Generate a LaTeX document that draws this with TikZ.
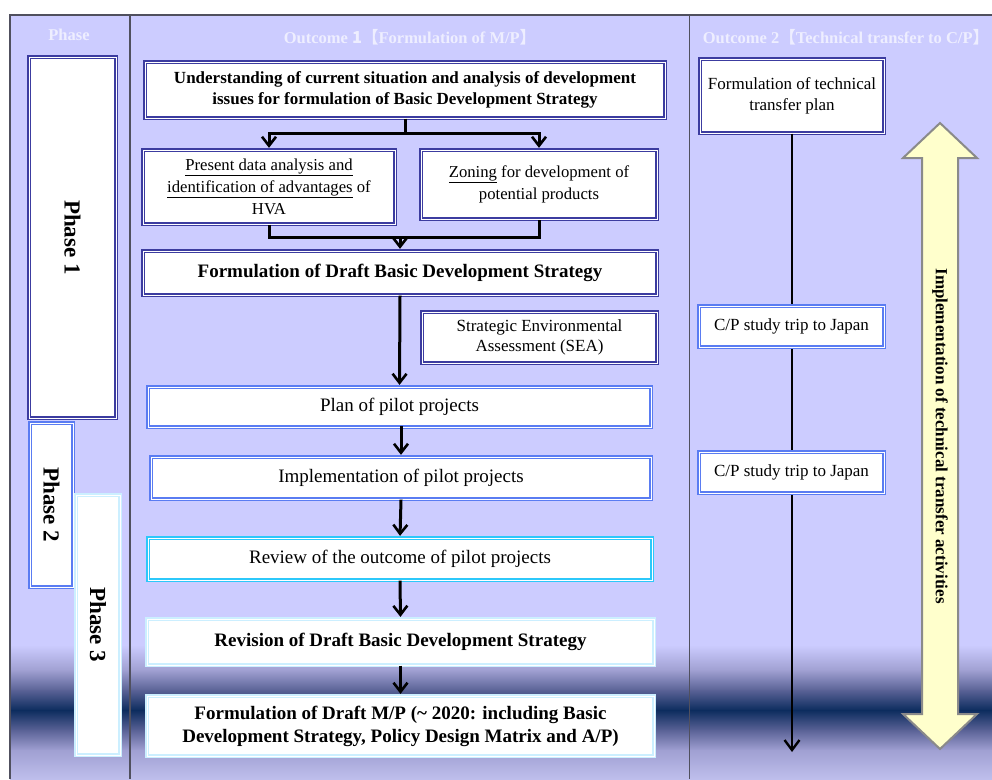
\documentclass[tikz,border=0pt]{standalone}
\usepackage{fontspec}
\setmainfont{Liberation Serif}
\newfontfamily\cjkfont{Noto Sans CJK SC}
\usetikzlibrary{arrows.meta}

\definecolor{lav}{HTML}{CCCCFF}
\definecolor{lavlow}{HTML}{BEBEEC}
\definecolor{bandmid}{HTML}{A0A0D2}
\definecolor{banddark}{HTML}{5A6296}
\definecolor{bandnavy}{HTML}{0C2C5E}
\definecolor{gridline}{HTML}{50505E}
\definecolor{navyb}{HTML}{3C3CA0}
\definecolor{blueb}{HTML}{5A7CF2}
\definecolor{cyanb}{HTML}{2CC8FA}
\definecolor{paleb}{HTML}{CCEFFF}
\definecolor{headtext}{HTML}{EEEEFF}
\definecolor{arrfill}{HTML}{FFFFCC}
\definecolor{arredge}{HTML}{8A8A8A}

\tikzset{
  x=1pt, y=-1pt,
  box/.style={draw=#1, fill=white, line width=1.3pt, double=white,
    double distance=1pt, inner sep=0pt, align=center, text=black},
  fs/.style n args={2}{font=\fontsize{#1}{#2}\selectfont},
  fsb/.style n args={2}{font=\fontsize{#1}{#2}\selectfont\bfseries},
  header/.style={text=headtext, font=\fontsize{16.5}{20}\selectfont\bfseries},
  conn/.style={line width=3pt, black},
  arr/.style={conn, shorten >=1.5pt,
    -{Straight Barb[length=9pt, width=14pt, line width=2.6pt]}},
  arrthin/.style={line width=2.6pt, black,
    -{Straight Barb[length=10pt, width=15pt, line width=2.4pt]}},
  phaselbl/.style={fsb={23}{26}, rotate=-90},
}

\begin{document}
\begin{tikzpicture}
\useasboundingbox (0,0) rectangle (992,779);
\fill[white] (0,0) rectangle (992,779);

% table background with the dark band near the bottom
\fill[lav] (10,15) rectangle (992,779);
\shade[top color=lav, bottom color=bandmid] (10,645) rectangle (992,670.5);
\shade[top color=bandmid, bottom color=banddark] (10,670) rectangle (992,690.5);
\shade[top color=banddark, bottom color=bandnavy] (10,690) rectangle (992,710.5);
\shade[top color=bandnavy, bottom color=banddark] (10,710) rectangle (992,730.5);
\shade[top color=banddark, bottom color=bandmid] (10,730) rectangle (992,750.5);
\shade[top color=bandmid, bottom color=lavlow] (10,750) rectangle (992,779);

% table rules
\draw[gridline, line width=1.5pt] (10,779) -- (10,15) -- (992,15);
\draw[gridline, line width=1.5pt] (130,15) -- (130,779);
\draw[gridline, line width=1pt] (689,15) -- (689,779);

% column headers
\node[header] (hphase) at (69,35) {Phase};
\node[header] (hout1) at (410,37) {Outcome {\cjkfont 1}{\cjkfont 【}Formulation of M/P{\cjkfont 】}};
\node[header] (hout2) at (846,37) {Outcome 2{\cjkfont 【}Technical transfer to C/P{\cjkfont 】}};

% phases
\node[box=navyb, phaselbl, minimum width=361pt, minimum height=87pt] (ph1) at (72.5,237.5) {Phase 1};
\node[box=blueb, phaselbl, minimum width=164pt, minimum height=43pt] (ph2) at (51.5,505) {Phase 2};
\node[box=paleb, phaselbl, minimum width=260pt, minimum height=44pt] (ph3) at (98,625) {Phase 3};

% outcome 1 flow
\node[box=navyb, fsb={17}{21}, minimum width=520pt, minimum height=56pt] (b1) at (405,90)
  {Understanding of current situation and analysis of development\\issues for formulation of Basic Development Strategy};
\node[box=navyb, fs={16.7}{22}, minimum width=252pt, minimum height=74pt] (b2) at (269,187)
  {\underline{Present data analysis and}\\\underline{identification of advantages} of\\HVA};
\node[box=navyb, fs={16.7}{22}, minimum width=236pt, minimum height=69pt] (b3) at (539,184.5)
  {\underline{Zoning} for development of\\potential products};
\node[box=navyb, fsb={19}{23}, minimum width=514pt, minimum height=44pt] (b4) at (400,273)
  {Formulation of Draft Basic Development Strategy};
\node[box=navyb, fs={17}{20.5}, minimum width=235pt, minimum height=51pt] (sea) at (539.5,337.5)
  {Strategic Environmental\\Assessment (SEA)};
\node[box=blueb, fs={19}{23}, minimum width=503pt, minimum height=40pt] (plan) at (399.5,407)
  {Plan of pilot projects};
\node[box=blueb, fs={19}{23}, minimum width=500pt, minimum height=42pt] (impl) at (401,478)
  {Implementation of pilot projects};
\node[box=cyanb, fs={19}{23}, minimum width=504pt, minimum height=42pt] (rev) at (400,559)
  {Review of the outcome of pilot projects};
\node[box=paleb, fsb={19}{23}, minimum width=507pt, minimum height=46pt] (revis) at (400.5,642)
  {Revision of Draft Basic Development Strategy};
\node[box=paleb, fsb={19}{23}, minimum width=507pt, minimum height=60pt] (final) at (400.5,726)
  {Formulation of Draft M/P (\textasciitilde{} 2020: including Basic\\Development Strategy, Policy Design Matrix and A/P)};

\coordinate (split) at (405,133);
\draw[conn] (b1.south) -- (split);
\draw[arr] (split) -| (b2.north);
\draw[arr] (split) -| (b3.north);
\coordinate (merge) at (400,237);
\draw[conn] (b2.south) |- (merge) -| (b3.south);
\draw[arr] (merge) -- (b4.north);
\draw[arr] (b4.south) -- (plan.north);
\draw[arr] (plan.south) -- (impl.south |- plan.south) -- (impl.north);
\draw[arr] (impl.south) -- (rev.north);
\draw[arr] (rev.south) -- (revis.north);
\draw[arr] (revis.south) -- (final.north);

% outcome 2 flow
\node[box=navyb, fs={17}{21}, minimum width=184pt, minimum height=74pt] (tplan) at (792,96)
  {Formulation of technical\\transfer plan};
\coordinate (tend) at (792,752);
\draw[arrthin] (tplan.south) -- (tend);
\node[box=blueb, fs={17}{21}, minimum width=185pt, minimum height=41pt] (cp1) at (791.5,326.5)
  {C/P study trip to Japan};
\node[box=blueb, fs={17}{21}, minimum width=185pt, minimum height=41pt] (cp2) at (791.5,472.5)
  {C/P study trip to Japan};

% two-headed block arrow
\draw[fill=arrfill, draw=arredge, line width=2pt, line join=miter]
  (940,123) -- (977,158) -- (958,158) -- (958,714) -- (977,714) -- (940,749)
  -- (903,714) -- (922,714) -- (922,158) -- (903,158) -- cycle;
\node[fsb={17}{20}, rotate=-90] (impltxt) at (940,436)
  {Implementation of technical transfer activities};
\end{tikzpicture}
\end{document}
